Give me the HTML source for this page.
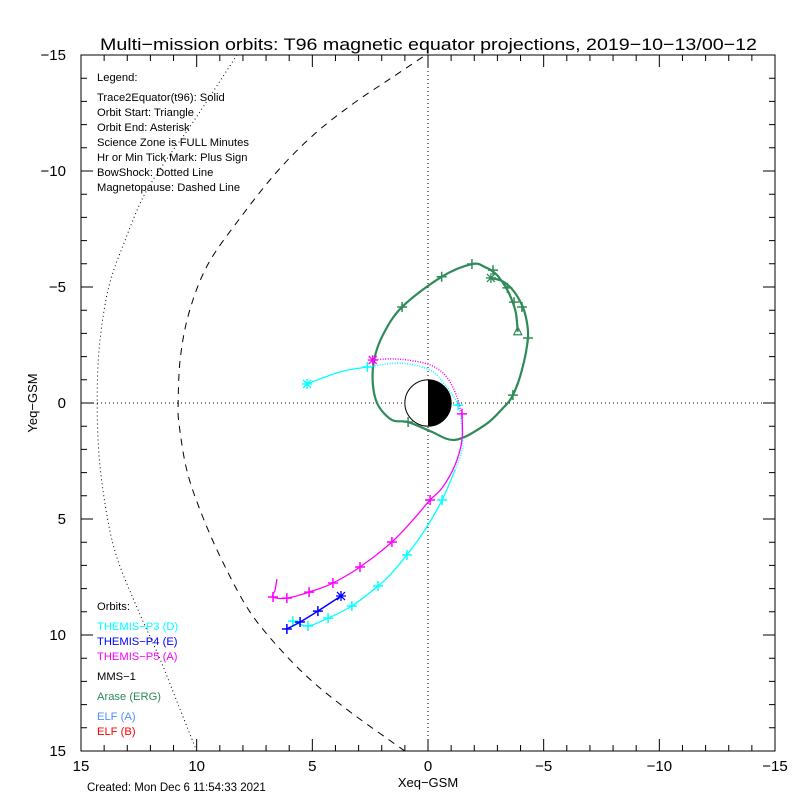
<!DOCTYPE html>
<html><head><meta charset="utf-8"><style>
html,body{margin:0;padding:0;background:#fff;}
svg{display:block;font-family:"Liberation Sans",sans-serif;}
</style></head><body>
<svg id="chart" width="800" height="800" viewBox="0 0 800 800" xmlns="http://www.w3.org/2000/svg">
<rect width="800" height="800" fill="#fff"/>
<text x="100" y="50" font-size="17" textLength="657" lengthAdjust="spacingAndGlyphs">Multi−mission orbits: T96 magnetic equator projections, 2019−10−13/00−12</text>
<g id="axes"></g>
<g id="series"></g>
<g font-size="11.2" fill="#000">
<text x="97" y="81">Legend:</text>
<text x="97" y="101">Trace2Equator(t96): Solid</text>
<text x="97" y="116">Orbit Start: Triangle</text>
<text x="97" y="131">Orbit End: Asterisk</text>
<text x="97" y="146">Science Zone is FULL Minutes</text>
<text x="97" y="161">Hr or Min Tick Mark: Plus Sign</text>
<text x="97" y="176">BowShock: Dotted Line</text>
<text x="97" y="191">Magnetopause: Dashed Line</text>
<text x="97" y="610">Orbits:</text>
<text x="97" y="630" fill="#00ffff">THEMIS−P3 (D)</text>
<text x="97" y="645" fill="#0000ff">THEMIS−P4 (E)</text>
<text x="97" y="660" fill="#ff00ff">THEMIS−P5 (A)</text>
<text x="97" y="680">MMS−1</text>
<text x="97" y="700" fill="#2e8b57">Arase (ERG)</text>
<text x="97" y="720" fill="#4f8fff">ELF (A)</text>
<text x="97" y="735" fill="#ff0000">ELF (B)</text>
</g>
<text x="428" y="787" font-size="13" text-anchor="middle">Xeq−GSM</text>
<text x="0" y="0" font-size="13" text-anchor="middle" transform="translate(37,403) rotate(-90)">Yeq−GSM</text>
<text x="87" y="791" font-size="11.5">Created: Mon Dec  6 11:54:33 2021</text>
</svg>
<script>
const xTicks=[15,10,5,0,-5,-10,-15];
const yTicks=[-15,-10,-5,0,5,10,15];
const tickLabels=["15","10","5","0","-5","-10","-15"];
const yTickLabels=["-15","-10","-5","0","5","10","15"];
const magnetopause=[[1.0,15],[3.25,13.4],[5.0,12],[6.4,10.6],[7.7,9],[8.8,7],[9.7,5],[10.4,3],[10.75,1],[10.8,0],[10.7,-2],[10.3,-4],[9.5,-6],[8.1,-8],[6.5,-10],[4.9,-11.6],[3.24,-12.9],[1.6,-14],[0.1,-15]];
const bowShock=[[8.26,-15],[10.16,-12.1],[11.3,-10.5],[12.3,-8.9],[13.1,-7],[13.8,-5],[14.2,-2.5],[14.3,0],[14.2,2.5],[13.85,5],[13.4,6.8],[12.5,9],[11.6,11],[10.8,13],[10,15]];
const araseX=[-3.88,-3.80,-3.59,-3.33,-2.94,-2.46,-1.90,-0.59,1.12,1.95,2.33,2.38,2.16,1.56,0.86,-0.09,-1.17,-2.46,-3.24,-3.67,-4.06,-4.32,-4.24,-4.02,-3.63,-3.20,-2.72];
const araseY=[-3.07,-3.88,-4.53,-5.04,-5.56,-5.86,-5.99,-5.44,-4.14,-2.93,-1.85,-0.78,0.09,0.73,0.82,1.21,1.59,0.95,0.22,-0.34,-1.42,-2.80,-3.66,-4.31,-4.91,-5.26,-5.39];
const araseTickX=[1.12,-0.59,-1.90,-2.81,-3.43,-3.72,-4.06,-4.32,-3.67,0.86];
const araseTickY=[-4.14,-5.44,-5.99,-5.73,-4.96,-4.35,-4.14,-2.80,-0.34,0.82];
const thdX=[5.23,3.80,2.62,1.21,-0.09,-0.73,-1.30,-1.47,-1.47,-1.17,-0.61,0.13,0.91,1.64,2.16,3.29,4.32,5.19,5.84];
const thdY=[-0.82,-1.34,-1.55,-1.72,-1.42,-0.78,0.09,1.16,2.03,2.89,4.18,5.47,6.55,7.41,7.89,8.75,9.27,9.61,9.40];
const thdTickX=[2.62,-1.30,-0.61,0.91,2.16,3.29,4.32,5.19,5.84];
const thdTickY=[-1.55,0.09,4.18,6.55,7.89,8.75,9.27,9.61,9.40];
const thaX=[2.39,1.64,0.86,-0.09,-0.73,-1.17,-1.47,-1.47,-1.17,-0.61,-0.09,0.65,1.56,2.94,4.11,5.14,6.10,6.70,6.61,6.53];
const thaY=[-1.85,-1.90,-1.85,-1.64,-1.21,-0.47,0.47,1.59,2.67,3.66,4.18,5.04,5.99,7.07,7.76,8.15,8.41,8.36,8.06,7.59];
const thaTickX=[-1.47,-0.09,1.56,2.94,4.11,5.14,6.10,6.70];
const thaTickY=[0.47,4.18,5.99,7.07,7.76,8.15,8.41,8.36];
const theX=[3.76,4.76,5.53,6.10];
const theY=[8.32,8.97,9.44,9.74];

const NS="http://www.w3.org/2000/svg";
const L=81,R=775,T=55,B=751;
function sx(v){return 428+(v)*(L-R)/30;}
function sy(v){return 403+(v)*(B-T)/30;}
function mk(tag,attrs,parent){const e=document.createElementNS(NS,tag);for(const k in attrs)e.setAttribute(k,attrs[k]);parent.appendChild(e);return e;}
const axes=document.getElementById('axes'),ser=document.getElementById('series');
let fr=mk('rect',{x:L,y:T,width:R-L,height:B-T,fill:'none',stroke:'#000','stroke-width':1},axes);


for(let v=-15;v<=15;v++){
  const len=(v%5===0)?12:6;
  const X=sx(v),Y=sy(v);
  let t=mk('path',{d:`M${X},${B}v${-len}M${X},${T}v${len}M${L},${Y}h${len}M${R},${Y}h${-len}`,stroke:'#000','stroke-width':1,fill:'none'},axes);
  
  
}
xTicks.forEach((v,i)=>{let t=mk('text',{x:sx(v),y:771,'font-size':15,'text-anchor':'middle'},axes);t.textContent=tickLabels[i].replace('-','−');

});
yTicks.forEach((v,i)=>{let t=mk('text',{x:66,y:sy(v)+5,'font-size':15,'text-anchor':'end'},axes);t.textContent=yTickLabels[i].replace('-','−');

});
let zl=mk('path',{d:`M${sx(0)},${T}V${B}M${L},${sy(0)}H${R}`,stroke:'#000','stroke-dasharray':'1,3',fill:'none'},axes);


function smooth(pts){
  let d=`M${pts[0][0]},${pts[0][1]}`;
  for(let i=0;i<pts.length-1;i++){
    const p0=pts[Math.max(i-1,0)],p1=pts[i],p2=pts[i+1],p3=pts[Math.min(i+2,pts.length-1)];
    d+=`C${p1[0]+(p2[0]-p0[0])/6},${p1[1]+(p2[1]-p0[1])/6} ${p2[0]-(p3[0]-p1[0])/6},${p2[1]-(p3[1]-p1[1])/6} ${p2[0]},${p2[1]}`;
  }
  return d;
}
function curve(xs,ys,a,b,attrs,name){
  const pts=[];for(let i=a;i<=b;i++)pts.push([sx(xs[i]),sy(ys[i])]);
  const p=mk('path',Object.assign({d:smooth(pts),fill:'none'},attrs),ser);
  
  
}
function plus(x,y,c,name){const X=sx(x),Y=sy(y);const p=mk('path',{d:`M${X-5},${Y}h10M${X},${Y-5}v10`,stroke:c,'stroke-width':1.5,fill:'none'},ser);

}
function star(x,y,c,name){const X=sx(x),Y=sy(y);const p=mk('path',{d:`M${X-5},${Y}h10M${X},${Y-5}v10M${X-4},${Y-4}l8,8M${X-4},${Y+4}l8,-8`,stroke:c,'stroke-width':1.3,fill:'none'},ser);

}
let mp=mk('path',{d:smooth(magnetopause.map(p=>[sx(p[0]),sy(p[1])])),fill:'none',stroke:'#000','stroke-dasharray':'7,6'},ser);


let bs=mk('path',{d:smooth(bowShock.map(p=>[sx(p[0]),sy(p[1])])),fill:'none',stroke:'#000','stroke-dasharray':'1,3'},ser);


const ex=sx(0),ey=sy(0),er=(L-R)/-30;
let ec=mk('circle',{cx:ex,cy:ey,r:er,fill:'#fff',stroke:'#000'},ser);


let en=mk('path',{d:`M${ex},${ey-er}A${er},${er} 0 0 1 ${ex},${ey+er}Z`,fill:'#000'},ser);


curve(araseX,araseY,0,araseX.length-1,{stroke:'#2e8b57','stroke-width':2.2},'arase-orbit');
araseTickX.forEach((x,i)=>plus(x,araseTickY[i],'#2e8b57','arase-tick'));
{const X=sx(araseX[0]),Y=sy(araseY[0]);let t=mk('path',{d:`M${X},${Y-5}l4,8h-8z`,fill:'none',stroke:'#2e8b57','stroke-width':1.2},ser);

}
star(araseX[araseX.length-1],araseY[araseY.length-1],'#2e8b57','arase-end');
curve(thdX,thdY,0,2,{stroke:'#00ffff','stroke-width':1.3},'themis-d-orbit');
curve(thdX,thdY,2,9,{stroke:'#00ffff','stroke-width':1.5,'stroke-dasharray':'1,1.5'},'themis-d-orbit-science');
curve(thdX,thdY,9,thdX.length-1,{stroke:'#00ffff','stroke-width':1.3},'themis-d-orbit');
thdTickX.forEach((x,i)=>plus(x,thdTickY[i],'#00ffff','themis-d-tick'));
star(thdX[0],thdY[0],'#00ffff','themis-d-end');
curve(thaX,thaY,0,6,{stroke:'#ff00ff','stroke-width':1.5,'stroke-dasharray':'1,1.5'},'themis-a-orbit-science');
curve(thaX,thaY,6,thaX.length-1,{stroke:'#ff00ff','stroke-width':1.3},'themis-a-orbit');
thaTickX.forEach((x,i)=>plus(x,thaTickY[i],'#ff00ff','themis-a-tick'));
star(thaX[0],thaY[0],'#ff00ff','themis-a-end');
curve(theX,theY,0,theX.length-1,{stroke:'#0000ff','stroke-width':1.5},'themis-e-orbit');
for(let i=1;i<theX.length;i++)plus(theX[i],theY[i],'#0000ff','themis-e-tick');
star(theX[0],theY[0],'#0000ff','themis-e-end');
</script>
</body></html>
